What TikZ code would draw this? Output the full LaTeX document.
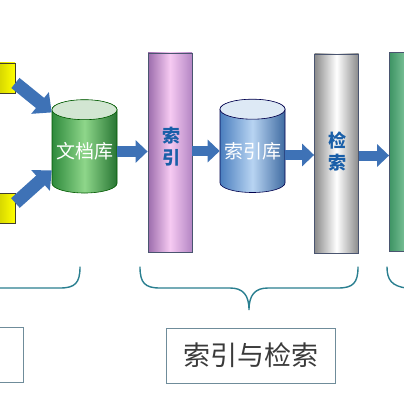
\documentclass[tikz,border=0pt]{standalone}
\usepackage{fontspec}
\newfontfamily\cjk{Noto Sans CJK SC}
\usetikzlibrary{shapes.geometric,arrows.meta,calc}
\definecolor{flowblue}{HTML}{3E72B6}
\definecolor{edgeslate}{HTML}{4A5570}
\definecolor{bracecol}{HTML}{2A7F90}
\definecolor{capborder}{HTML}{6F8C9A}
\definecolor{captext}{HTML}{3A3A3A}
\definecolor{coltext}{HTML}{1A5FA8}
\definecolor{greenedge}{HTML}{2E8A3C}
\definecolor{greenmid}{HTML}{8ED68A}
\definecolor{greentop}{HTML}{D2E6D2}
\definecolor{blueedge}{HTML}{4A7EBE}
\definecolor{bluemid}{HTML}{B8D4F2}
\definecolor{bluetop}{HTML}{DDE9F5}
\definecolor{pinkleft}{HTML}{9C6CAC}
\definecolor{pinkmid}{HTML}{F6CAF2}
\definecolor{pinkright}{HTML}{B486C4}
\definecolor{grayedge}{HTML}{8A8A8A}
\definecolor{resleft}{HTML}{3E9464}
\definecolor{resmid}{HTML}{90D2AA}
\definecolor{resright}{HTML}{62B282}

\begin{document}
\begin{tikzpicture}[x=1pt, y=-1pt,
  srcbox/.style={draw=black!70!olive, line width=0.8pt, left color=olive!80!yellow,
    right color=yellow, minimum width=40pt, minimum height=30pt},
  store/.style={cylinder, shape border rotate=90, aspect=0.34, line width=0.6pt,
    minimum width=65pt, minimum height=93pt, inner sep=0pt, text=white,
    font=\cjk\fontsize{19}{21}\selectfont},
  column/.style={draw=edgeslate, line width=0.8pt, minimum width=44pt,
    minimum height=199pt, inner sep=0pt},
  coltxt/.style={text=coltext, align=center, font=\cjk\bfseries\fontsize{18}{22}\selectfont},
  flow/.style={draw=flowblue, line width=10pt, -{Triangle[length=12pt, width=22pt]}},
  bigflow/.style={draw=flowblue, line width=13pt, -{Triangle[length=15pt, width=27pt]}},
  brace/.style={draw=bracecol, line width=1.4pt, line cap=round},
  caption/.style={draw=capborder, line width=0.8pt, minimum width=169pt,
    minimum height=55pt, text=captext, font=\cjk\fontsize{27}{30}\selectfont}
]
  \useasboundingbox (0,0) rectangle (404,404);
  \fill[white] (0,0) rectangle (404,404);

  % sources
  \node[srcbox] (srcA) at (-5,78) {};
  \node[srcbox] (srcB) at (-5,208) {};

  % document store
  \node[store, draw=green!35!black, left color=greenedge, right color=greenedge!85!black,
    middle color=greenmid] (docs) at (84.5,151.5) {文档库};
  \path[draw=green!35!black, line width=0.6pt, fill=greentop]
    let \p1=(docs.before top), \p2=(docs.top) in
    ($(docs.before top)!0.5!(docs.after top)$) ellipse [x radius=32.5pt, y radius={\y2-\y1}];

  % indexing
  \node[column, left color=pinkleft, right color=pinkright, middle color=pinkmid] (index) at (170,152.5) {};
  \node[coltxt] (indexTxt) at (171,147) {索\\引};

  % index store
  \node[store, draw=blue!30!black, left color=blueedge, right color=blueedge!85!black,
    middle color=bluemid] (idxdb) at (252.5,151) {索引库};
  \path[draw=blue!30!black, line width=0.6pt, fill=bluetop]
    let \p1=(idxdb.before top), \p2=(idxdb.top) in
    ($(idxdb.before top)!0.5!(idxdb.after top)$) ellipse [x radius=32.5pt, y radius={\y2-\y1}];

  % searching
  \node[column, left color=grayedge, right color=grayedge, middle color=white] (search) at (336.5,153.5) {};
  \node[coltxt] (searchTxt) at (337,152) {检\\索};

  % result (cut off)
  \node[column, left color=resleft, right color=resright, middle color=resmid] (result) at (411.5,152) {};

  % arrows
  \draw[bigflow] ([yshift=-5pt]srcA.east) -- (docs.130);
  \draw[bigflow] ([yshift=5pt]srcB.east) -- (docs.210);
  \draw[flow] (docs.east) -- (docs.east -| index.west);
  \draw[flow] (index.east |- idxdb.east) -- (idxdb.east -| idxdb.west);
  \draw[flow] ([yshift=-4pt]idxdb.east) -- ([yshift=-4pt]idxdb.east -| search.west);
  \draw[flow] ([yshift=-2pt]search.east) -- ([yshift=-2pt]search.east -| result.west);

  % braces
  \draw[brace] (80,267) .. controls (80,283) and (75,288) .. (60,288) -- (-10,288);
  \draw[brace] (140,267) .. controls (140,283) and (145,288) .. (160,288) -- (230,288)
    .. controls (243,288) and (249,295) .. (249,310)
    .. controls (249,295) and (255,288) .. (268,288) -- (338,288)
    .. controls (353,288) and (358,283) .. (358,267);
  \draw[brace] (387,267) .. controls (387,280) and (392,286) .. (406,288);

  % captions
  \node[caption] (capLeft) at (-61.5,354.5) {};
  \node[caption] (capMid) at (250.5,355.5) {索引与检索};
\end{tikzpicture}
\end{document}
